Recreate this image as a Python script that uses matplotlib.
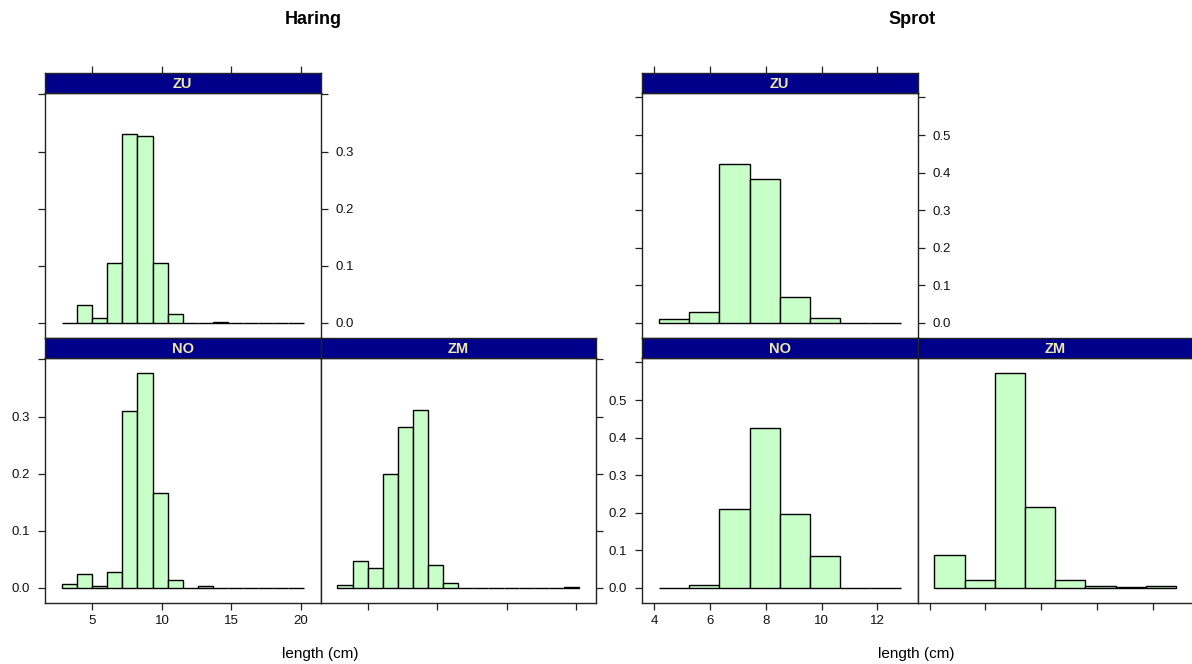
import matplotlib
matplotlib.use("Agg")
import matplotlib.pyplot as plt
import numpy as np

plt.rcParams['font.family'] = ['Liberation Sans', 'DejaVu Sans']

# ---------------- data ----------------
species = ["Haring", "Sprot"]
areas = ["ZU", "NO", "ZM"]

haring_breaks = np.linspace(2.8, 20.2, 17)
haring_ZU = [0.0, 0.031, 0.009, 0.105, 0.330, 0.328, 0.105, 0.015, 0.0, 0.0, 0.002, 0.0, 0.0, 0.0, 0.0, 0.0]
haring_NO = [0.007, 0.0245, 0.0035, 0.028, 0.309, 0.377, 0.166, 0.014, 0.0, 0.0035, 0.0, 0.0, 0.0, 0.0, 0.0, 0.0]
haring_ZM = [0.0047, 0.047, 0.035, 0.199, 0.281, 0.311, 0.040, 0.008, 0.0, 0.0, 0.0, 0.0, 0.0, 0.0, 0.0, 0.0017]

sprot_breaks = np.linspace(4.17, 12.83, 9)
sprot_ZU = [0.010, 0.029, 0.424, 0.382, 0.068, 0.013, 0.0, 0.0]
sprot_NO = [0.0, 0.007, 0.211, 0.426, 0.196, 0.084, 0.0, 0.0]
sprot_ZM = [0.087, 0.021, 0.573, 0.214, 0.021, 0.005, 0.002, 0.005]

haring_xticks = [5, 10, 15, 20]
haring_yticks = [0.0, 0.1, 0.2, 0.3, 0.4]
haring_ylabels = ["0.0", "0.1", "0.2", "0.3", ""]
sprot_xticks = [4, 6, 8, 10, 12]
sprot_yticks = [0.0, 0.1, 0.2, 0.3, 0.4, 0.5, 0.6]
sprot_ylabels = ["0.0", "0.1", "0.2", "0.3", "0.4", "0.5", ""]

xlabel_text = "length (cm)"

# ---------------- styling ----------------
W, H = 1192, 664
fig = plt.figure(figsize=(W / 100, H / 100), dpi=100)
STRIP_COL = "#00008B"
STRIP_TXT = "#EEE8AA"
BAR_COL = "#C8FFC8"
FRAME = "#222222"
TICKLEN = 5
TICKFS = 9.5


def ax_px(x0, y0, x1, y1, **kw):
    return fig.add_axes([x0 / W, 1 - y1 / H, (x1 - x0) / W, (y1 - y0) / H], **kw)


def padded(lo, hi, f=0.07):
    r = hi - lo
    return lo - f * r, hi + f * r


def make_panel(x0, x1, ytop, name, breaks, heights, xlim, ylim, xt, yt, ytl,
               left=False, left_lab=False, right=False, right_lab=False,
               bottom=False, bottom_lab=False, top=False):
    strip_h = 19.5
    panel_h = 245.5
    ax = ax_px(x0, ytop + strip_h, x1, ytop + strip_h + panel_h)
    edges = np.asarray(breaks)
    ax.bar(edges[:-1], heights, width=np.diff(edges), align="edge",
           color=BAR_COL, edgecolor="black", linewidth=1.0)
    ax.set_xlim(*xlim)
    ax.set_ylim(*ylim)
    for s in ax.spines.values():
        s.set_color(FRAME)
        s.set_linewidth(1.0)
    ax.set_xticks(xt)
    ax.set_xticklabels([str(v) for v in xt])
    ax.set_yticks(yt)
    ax.set_yticklabels(ytl)
    ax.tick_params(axis="both", direction="out", length=TICKLEN, width=0.9,
                   color=FRAME, labelsize=TICKFS, labelcolor="#111111")
    ax.tick_params(axis="x", bottom=bottom, labelbottom=bottom_lab, top=False,
                   labeltop=False, pad=4)
    ax.tick_params(axis="y", left=left, labelleft=left_lab, right=right,
                   labelright=right_lab, pad=6)

    sax = ax_px(x0, ytop, x1, ytop + strip_h)
    sax.set_facecolor(STRIP_COL)
    sax.set_xlim(*xlim)
    sax.set_ylim(0, 1)
    for s in sax.spines.values():
        s.set_color(FRAME)
        s.set_linewidth(1.0)
    sax.set_yticks([])
    sax.set_xticks(xt)
    sax.tick_params(axis="x", bottom=False, labelbottom=False, top=top,
                    labeltop=False, direction="out", length=TICKLEN,
                    width=0.9, color=FRAME)
    sax.text(0.5, 0.42, name, transform=sax.transAxes, ha="center",
             va="center", color=STRIP_TXT, fontsize=10.5, fontweight="bold")
    return ax


groups = [
    dict(title=species[0], x0=45.0, pw=275.5, breaks=haring_breaks,
         data=[haring_ZU, haring_NO, haring_ZM], xt=haring_xticks,
         yt=haring_yticks, ytl=haring_ylabels, tx=313.5, lx=320.5),
    dict(title=species[1], x0=642.0, pw=275.5, breaks=sprot_breaks,
         data=[sprot_ZU, sprot_NO, sprot_ZM], xt=sprot_xticks,
         yt=sprot_yticks, ytl=sprot_ylabels, tx=912.0, lx=916.0),
]

for g in groups:
    b = g["breaks"]
    xlim = padded(b[0], b[-1])
    ymax = max(max(d) for d in g["data"])
    ylim = padded(0.0, ymax)
    x0, pw = g["x0"], g["pw"]
    zu, no, zm = g["data"]
    # top row: ZU
    make_panel(x0, x0 + pw, 73.0, areas[0], b, zu, xlim, ylim, g["xt"], g["yt"],
               g["ytl"], left=True, right=True, right_lab=True, top=True)
    # bottom row: NO, ZM
    make_panel(x0, x0 + pw, 338.0, areas[1], b, no, xlim, ylim, g["xt"], g["yt"],
               g["ytl"], left=True, left_lab=True, bottom=True, bottom_lab=True)
    make_panel(x0 + pw, x0 + 2 * pw, 338.0, areas[2], b, zm, xlim, ylim, g["xt"],
               g["yt"], g["ytl"], right=True, bottom=True)
    fig.text(g["tx"] / W, 1 - 19 / H, g["title"], ha="center", va="center",
             fontsize=13, fontweight="bold")
    fig.text(g["lx"] / W, 1 - 654 / H, xlabel_text, ha="center", va="center",
             fontsize=11)

fig.savefig("out.png", dpi=100)
